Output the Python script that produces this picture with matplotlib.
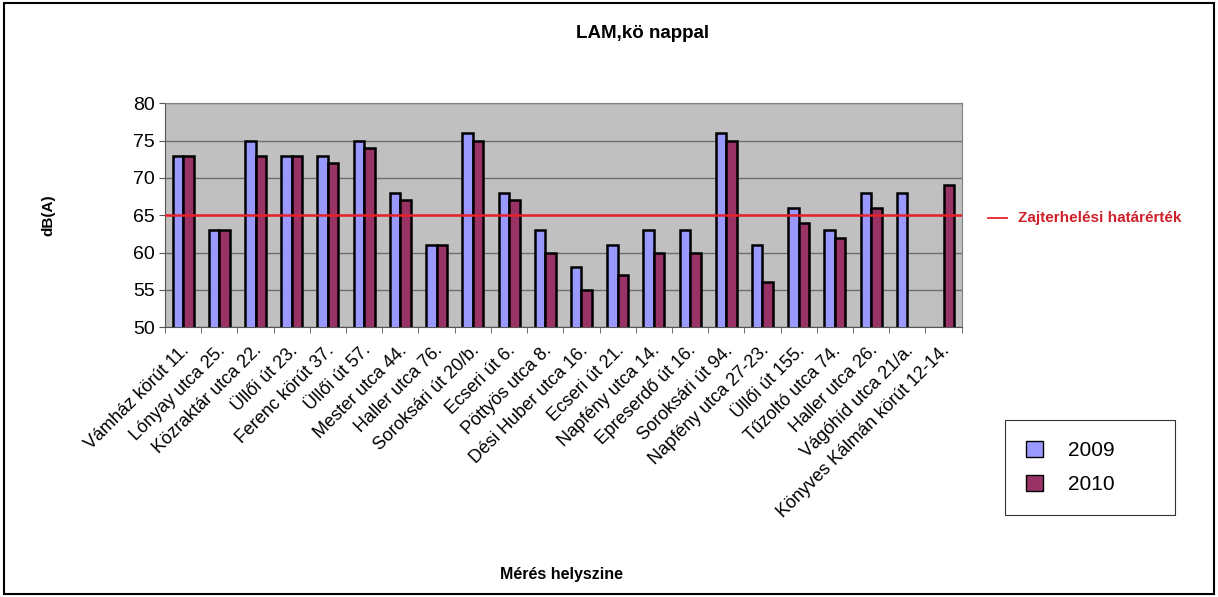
import matplotlib.pyplot as plt
import numpy as np
from matplotlib.patches import Rectangle, Patch

plt.rcParams['font.family'] = ['Liberation Sans', 'DejaVu Sans']

helyek = ['Vámház körút 11.', 'Lónyay utca 25.', 'Közraktár utca 22.', 'Üllői út 23.',
          'Ferenc körút 37.', 'Üllői út 57.', 'Mester utca 44.', 'Haller utca 76.',
          'Soroksári út 20/b.', 'Ecseri út 6.', 'Pöttyös utca 8.', 'Dési Huber utca 16.',
          'Ecseri út 21.', 'Napfény utca 14.', 'Epreserdő út 16.', 'Soroksári út 94.',
          'Napfény utca 27-23.', 'Üllői út 155.', 'Tűzoltó utca 74.', 'Haller utca 26.',
          'Vágóhíd utca 21/a.', 'Könyves Kálmán körút 12-14.']
ev2009 = [73, 63, 75, 73, 73, 75, 68, 61, 76, 68, 63, 58, 61, 63, 63, 76, 61, 66, 63, 68, 68, np.nan]
ev2010 = [73, 63, 73, 73, 72, 74, 67, 61, 75, 67, 60, 55, 57, 60, 60, 75, 56, 64, 62, 66, np.nan, 69]
hatarertek = 65

fig = plt.figure(figsize=(12.18, 5.97), dpi=100)
ax = fig.add_axes([0.1355, 0.452, 0.654, 0.375])

x = np.arange(len(helyek))
w = 0.29
ax.bar(x - w / 2, ev2009, w, bottom=0, color='#9999FF', edgecolor='black', linewidth=1.8, label='2009', zorder=3)
ax.bar(x + w / 2, ev2010, w, bottom=0, color='#993366', edgecolor='black', linewidth=1.8, label='2010', zorder=3)
ax.axhline(hatarertek, color='#E8212B', linewidth=1.8, zorder=4)

ax.set_xlim(-0.5, len(helyek) - 0.5)
ax.set_ylim(50, 80)
ax.set_yticks(range(50, 81, 5))
ax.set_facecolor('#C0C0C0')
ax.grid(axis='y', color='#6E6E6E', linewidth=1, zorder=0)
ax.set_xticks(x + 0.1)
ax.set_xticklabels(helyek, rotation=45, ha='right', va='center', rotation_mode='anchor', fontsize=13)
ax.tick_params(axis='x', length=0, pad=15)
ax.set_xticks(np.arange(len(helyek) + 1) - 0.5, minor=True)
ax.tick_params(axis='x', which='minor', length=4, color='#555555')
ax.tick_params(axis='y', labelsize=14, length=4, color='#555555')
for s in ['top', 'right']:
    ax.spines[s].set_color('#808080')
for s in ['left', 'bottom']:
    ax.spines[s].set_color('#555555')

fig.text(643 / 1218, 1 - 33 / 597, 'LAM,kö nappal', fontsize=13.5, fontweight='bold', ha='center', va='center')
fig.text(48 / 1218, 1 - 215 / 597, 'dB(A)', fontsize=11, fontweight='bold', rotation=90, ha='center', va='center')
fig.text(562 / 1218, 1 - 574 / 597, 'Mérés helyszine', fontsize=11.5, fontweight='bold', ha='center', va='center')

# határérték felirat
fig.lines.append(plt.Line2D([988 / 1218, 1007 / 1218], [1 - 218 / 597] * 2,
                            color='#E8212B', linewidth=1.3, transform=fig.transFigure))
fig.text(1018 / 1218, 1 - 218 / 597, 'Zajterhelési határérték', color='#D0202A',
         fontsize=11, fontweight='bold', va='center')

leg = fig.legend(handles=[Patch(facecolor='#9999FF', edgecolor='black', label='2009'),
                          Patch(facecolor='#993366', edgecolor='black', label='2010')],
                 loc='upper left', bbox_to_anchor=(1005 / 1218, 1 - 420 / 597, 170 / 1218, 0.0),
                 mode='expand', fontsize=15, frameon=True, fancybox=False, edgecolor='black',
                 borderpad=1.0, labelspacing=0.7, handlelength=0.8, handleheight=0.8,
                 handletextpad=1.2, borderaxespad=0)
leg.get_frame().set_linewidth(0.8)

fig.patches.append(Rectangle((0.003, 0.005), 0.994, 0.99, transform=fig.transFigure,
                             fill=False, edgecolor='black', linewidth=1.5))

fig.savefig('out.png', dpi=100)
